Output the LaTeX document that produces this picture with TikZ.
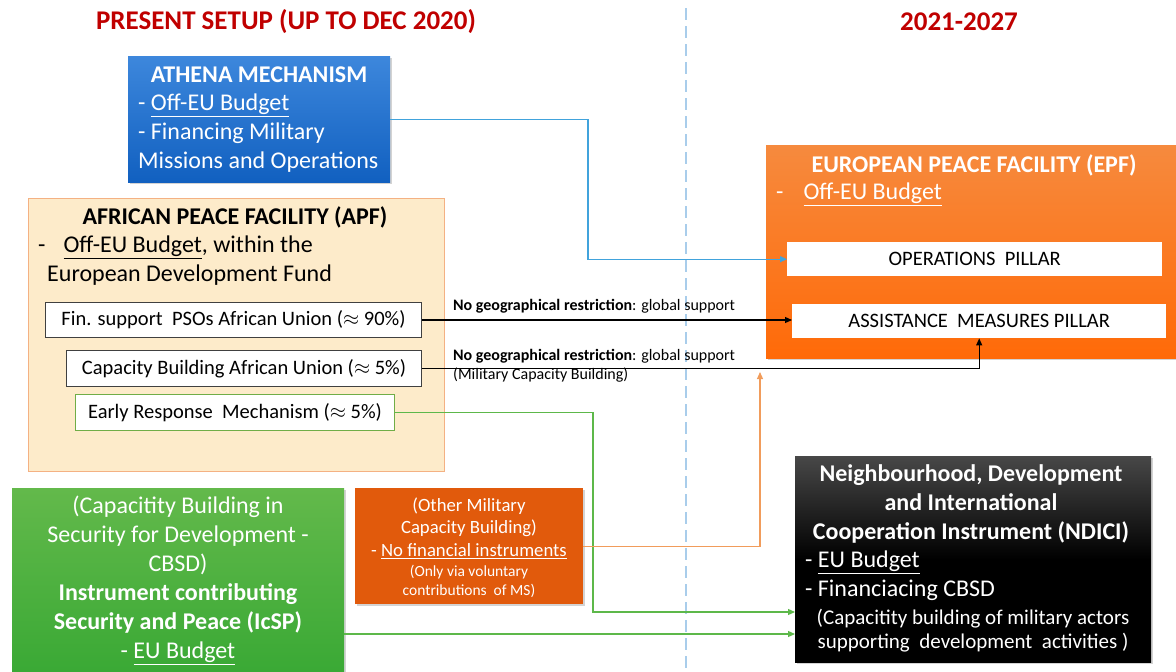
\documentclass[tikz,border=0pt]{standalone}
\usepackage{fontspec}
\setmainfont{Carlito}
\usetikzlibrary{positioning,shadows,arrows.meta}
\definecolor{hdred}{HTML}{C00000}
\definecolor{athtop}{HTML}{3D87DC}
\definecolor{athbot}{HTML}{1160C0}
\definecolor{apffill}{HTML}{FDEBCA}
\definecolor{apfline}{HTML}{F4B183}
\definecolor{epftop}{HTML}{F68A3E}
\definecolor{epfbot}{HTML}{FF6A08}
\definecolor{cbtop}{HTML}{63B94B}
\definecolor{cbbot}{HTML}{3AA935}
\definecolor{omorange}{HTML}{E15A0C}
\definecolor{lnblue}{HTML}{41A3DC}
\definecolor{lngreen}{HTML}{5DB84A}
\definecolor{lnorange}{HTML}{F19C5B}
\definecolor{divblue}{HTML}{A9CDEB}
\definecolor{ermline}{HTML}{70AD47}
\newcommand{\fsz}[2]{\fontsize{#1}{#2}\selectfont}

\begin{document}
\begin{tikzpicture}[x=1pt, y=-1pt,
    panel/.style = {rectangle, anchor=north west, inner sep=0pt},
    lift/.style = {drop shadow={opacity=0.35, shadow xshift=2pt, shadow yshift=-2pt}},
    subbox/.style = {panel, draw=black!75, fill=white, line width=1pt, font=\fsz{20.5}{24}},
    pillar/.style = {panel, fill=white, font=\fsz{20.5}{24}},
    txt/.style = {inner sep=0pt, text=white, font=\fsz{24}{29}},
    link/.style = {line width=1.2pt, -{Triangle[length=7pt,width=6pt]}},
    note/.style = {inner sep=0pt, anchor=west, font=\fsz{16}{19}}]
    \useasboundingbox (0,0) rectangle (1176,672);

    % divider and headings
    \draw[divblue, line width=1.5pt, dash pattern=on 12pt off 6pt] (686,8) -- (686,672);
    \node[text=hdred, font=\fsz{27}{32}\bfseries] (hd1) at (286,22) {PRESENT SETUP (UP TO DEC 2020)};
    \node[text=hdred, font=\fsz{27}{32}\bfseries] (hd2) at (959,22) {2021-2027};

    % present setup
    \node[panel, lift, minimum width=262pt, minimum height=126pt, top color=athtop, bottom color=athbot] (athena) at (128,56) {};
    \node[txt, font=\fsz{24}{29}\bfseries] at (259,75) {ATHENA MECHANISM};
    \node[txt, anchor=west, align=left] at (138,133) {- \underline{Off-EU Budget}\\- Financing Military\\Missions and Operations};

    \node[panel, draw=apfline, fill=apffill, line width=1pt, minimum width=416pt, minimum height=273pt] (apf) at (28,198) {};
    \node[txt, text=black, font=\fsz{24}{29}\bfseries] at (235,217) {AFRICAN PEACE FACILITY (APF)};
    \node[txt, text=black, anchor=west, align=left] at (38,261) {-\hspace{18pt}\underline{Off-EU Budget}, within the\\\hspace*{9pt}European Development Fund};
    \node[subbox, minimum width=376pt, minimum height=35pt] (fin) at (45,302) {Fin. support\ \ PSOs African Union ($\approx$ 90\%)};
    \node[subbox, minimum width=355pt, minimum height=36pt] (cap) at (66,350) {Capacity Building African Union ($\approx$ 5\%)};
    \node[subbox, draw=ermline, minimum width=319pt, minimum height=36pt] (erm) at (75,394) {Early Response\ \ Mechanism ($\approx$ 5\%)};

    \node[panel, lift, minimum width=332pt, minimum height=184pt, top color=cbtop, bottom color=cbbot] (icsp) at (12,488) {};
    \node[txt, align=center] at (178,580) {(Capacitity Building in\\Security for Development -\\CBSD)\\\textbf{Instrument contributing}\\\textbf{Security and Peace (IcSP)}\\- \underline{EU Budget}};

    \node[panel, lift, fill=omorange, minimum width=228pt, minimum height=116pt] (other) at (355,488) {};
    \node[txt, align=center, font=\fsz{18.7}{22.5}] at (469,528) {(Other Military\\Capacity Building)\\- \underline{No financial instruments}};
    \node[txt, align=center, font=\fsz{15.5}{19}] at (469,581) {(Only via voluntary\\contributions\ \ of MS)};

    % 2021-2027
    \node[panel, lift, minimum width=410pt, minimum height=213pt, top color=epftop, bottom color=epfbot] (epf) at (766,145) {};
    \node[txt, font=\fsz{24}{29}\bfseries] at (974,165) {EUROPEAN PEACE FACILITY (EPF)};
    \node[txt, anchor=west] at (776,194) {-\hspace{20pt}\underline{Off-EU Budget}};
    \node[pillar, minimum width=375pt, minimum height=34pt] (ops) at (787,242) {OPERATIONS\ \ PILLAR};
    \node[pillar, minimum width=374pt, minimum height=34pt] (ams) at (792,304) {ASSISTANCE\ \ MEASURES PILLAR};

    \node[panel, lift, minimum width=356pt, minimum height=206pt, top color=black!72, bottom color=black, middle color=black] (ndici) at (795,456) {};
    \node[txt, align=center, font=\fsz{24}{29}\bfseries] at (971,504) {Neighbourhood, Development\\and International\\Cooperation Instrument (NDICI)};
    \node[txt, anchor=west, align=left] at (805,576) {- \underline{EU Budget}\\- Financiacing CBSD};
    \node[txt, align=center, font=\fsz{21}{24}] at (973,631) {(Capacitity building of military actors\\supporting\ \ development\ \ activities )};

    % connectors
    \coordinate (b1) at (588,0);
    \coordinate (g1) at (593,612);
    \coordinate (o1) at (760,372);
    \draw[link, lnblue] (athena.east) -| (b1 |- ops.west) -- (ops.west);
    \draw[link] (fin.east) -- (fin.east -| ams.west);
    \draw[link] (cap.east) -| (ams.south);
    \draw[link, lngreen] (erm.east) -| (g1) -- (g1 -| ndici.west);
    \draw[link, lngreen] (icsp.east |- 0,634) -- (ndici.west |- 0,634);
    \draw[link, lnorange] (other.east) -| (o1);
    \node[note] (n1) at (453,306) {\textbf{No geographical restriction}: global support};
    \node[note] (n2) at (453,356) {\textbf{No geographical restriction}: global support};
    \node[note] (n3) at (453,375) {(Military Capacity Building)};
\end{tikzpicture}
\end{document}
